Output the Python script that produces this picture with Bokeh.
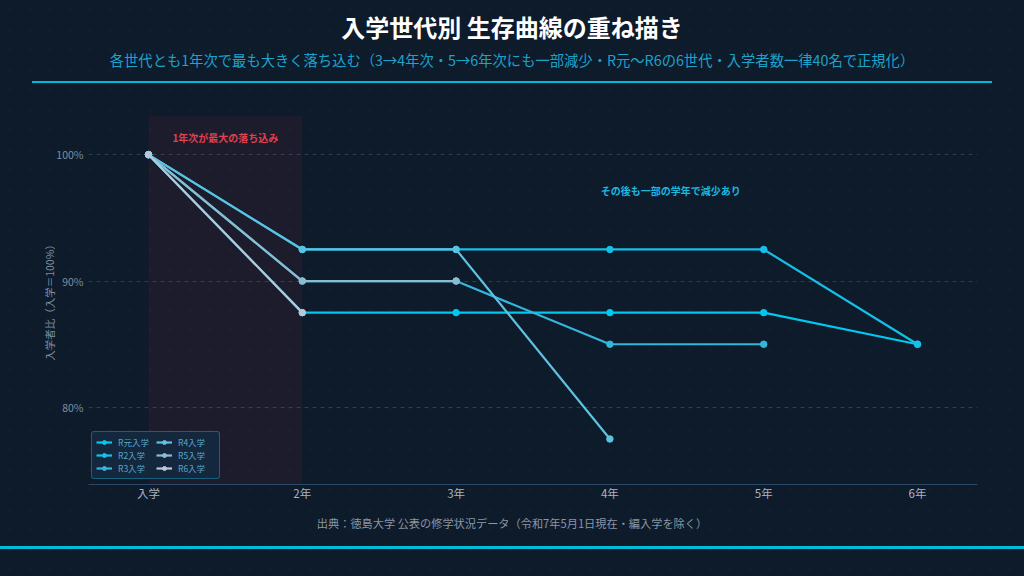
from bokeh.plotting import figure
from bokeh.models import (Legend, LegendItem, BoxAnnotation, Label, FixedTicker,
                          Range1d, Div, ColumnDataSource)
from bokeh.layouts import column
from bokeh.embed import file_html
from bokeh.resources import INLINE

# ---------------- data ----------------
stages = ["入学", "2年", "3年", "4年", "5年", "6年"]
cohorts = ["R元入学", "R2入学", "R3入学", "R4入学", "R5入学", "R6入学"]
r1_vals = [100, 87.5, 87.5, 87.5, 87.5, 85]
r2_vals = [100, 92.5, 92.5, 92.5, 92.5, 85]
r3_vals = [100, 90, 90, 85, 85]
r4_vals = [100, 92.5, 92.5, 77.5]
r5_vals = [100, 90, 90]
r6_vals = [100, 87.5]
series_vals = [r1_vals, r2_vals, r3_vals, r4_vals, r5_vals, r6_vals]
y_ticks = [80, 90, 100]
y_tick_labels = ["80%", "90%", "100%"]

title_text = "入学世代別 生存曲線の重ね描き"
subtitle_text = "各世代とも1年次で最も大きく落ち込む（3→4年次・5→6年次にも一部減少・R元〜R6の6世代・入学者数一律40名で正規化）"
source_text = "出典：徳島大学 公表の修学状況データ（令和7年5月1日現在・編入学を除く）"
y_label_text = "入学者比（入学＝100%）"
note_drop = "1年次が最大の落ち込み"
note_later = "その後も一部の学年で減少あり"

# ---------------- style ----------------
BG = "#0e1b2b"
ACCENT = "#00bcd8"
FONT = "Noto Sans CJK JP"
colors = ["#00c8f0", "#14c0e8", "#34b6dc", "#5cc2e0", "#8cbcd0", "#b8c8d6"]

p = figure(width=1008, height=410,
           x_range=Range1d(-0.39, 5.39), y_range=Range1d(73.9, 103.1),
           output_backend="svg", toolbar_location=None,
           min_border_left=80, min_border_right=39,
           min_border_top=11, min_border_bottom=30,
           background_fill_color=None, border_fill_color=None,
           outline_line_color=None, margin=0)

# shaded first-year region
p.add_layout(BoxAnnotation(left=0, right=1, fill_color="#e03040", fill_alpha=0.07,
                           line_color=None, border_radius=3, level="underlay"))

items = []
for name, vals, col in zip(cohorts, series_vals, colors):
    src = ColumnDataSource(dict(x=list(range(len(vals))), y=vals))
    ln = p.line("x", "y", source=src, line_color=col, line_width=2.2)
    sc = p.scatter("x", "y", source=src, marker="circle", size=6.5,
                   fill_color=col, line_color=col)
    items.append(LegendItem(label=name, renderers=[ln, sc]))

legend = Legend(items=items, location=(3, 5), orientation="vertical", nrows=3,
                background_fill_color="#14283e", background_fill_alpha=0.95,
                border_line_color="#1a9cc0", border_line_width=1,
                border_radius=3, margin=0, padding=4, spacing=1,
                glyph_width=16, glyph_height=10, label_height=10,
                label_width=37, label_standoff=6,
                label_text_font=FONT, label_text_font_size="8.5px",
                label_text_color="#5aa6c4")
p.add_layout(legend)

# annotations
p.add_layout(Label(x=0.5, y=101.35, text=note_drop, text_align="center",
                   text_baseline="middle", text_font=FONT, text_font_size="10px",
                   text_font_style="bold", text_color="#e0404f"))
p.add_layout(Label(x=3.395, y=97.15, text=note_later, text_align="center",
                   text_baseline="middle", text_font=FONT, text_font_size="10px",
                   text_font_style="bold", text_color="#1ab8e0"))

# axes
p.xaxis.ticker = FixedTicker(ticks=list(range(len(stages))))
p.xaxis.major_label_overrides = {i: s for i, s in enumerate(stages)}
p.xaxis.axis_line_color = "#2a4866"
p.xaxis.axis_line_width = 1
p.xaxis.major_tick_line_color = None
p.xaxis.minor_tick_line_color = None
p.xaxis.major_tick_out = 0
p.xaxis.major_tick_in = 0
p.xaxis.major_label_standoff = 0
p.xaxis.major_label_text_font = FONT
p.xaxis.major_label_text_font_size = "11.5px"
p.xaxis.major_label_text_color = "#aab4c0"

p.yaxis.ticker = FixedTicker(ticks=y_ticks)
p.yaxis.major_label_overrides = {t: l for t, l in zip(y_ticks, y_tick_labels)}
p.yaxis.axis_line_color = None
p.yaxis.major_tick_line_color = None
p.yaxis.minor_tick_line_color = None
p.yaxis.major_tick_out = 0
p.yaxis.major_tick_in = 0
p.yaxis.major_label_standoff = 5
p.yaxis.major_label_text_font = FONT
p.yaxis.major_label_text_font_size = "10.5px"
p.yaxis.major_label_text_color = "#7f8fa0"
p.yaxis.axis_label = y_label_text
p.yaxis.axis_label_text_font = FONT
p.yaxis.axis_label_text_font_size = "10.5px"
p.yaxis.axis_label_text_font_style = "normal"
p.yaxis.axis_label_text_color = "#7f8fa0"
p.yaxis.axis_label_standoff = -4

p.xgrid.grid_line_color = None
p.ygrid.grid_line_color = "#2c3d52"
p.ygrid.grid_line_dash = "4 4"
p.ygrid.grid_line_width = 1

header = Div(width=1008, height=96, margin=0, text=f"""
<div style="position:relative;width:1008px;height:96px;font-family:'{FONT}',sans-serif;">
  <div style="position:absolute;left:0;top:4px;width:1008px;text-align:center;font-size:24px;font-weight:bold;color:#ffffff;line-height:30px;white-space:nowrap;">{title_text}</div>
  <div style="position:absolute;left:0;top:42px;width:1008px;text-align:center;font-size:14.3px;color:#1ca3cc;line-height:20px;white-space:nowrap;">{subtitle_text}</div>
  <div style="position:absolute;left:24px;top:73px;width:960px;height:2px;background:{ACCENT};"></div>
</div>""")

footer = Div(width=1008, height=54, margin=0, text=f"""
<div style="position:relative;width:1008px;height:54px;font-family:'{FONT}',sans-serif;">
  <div style="position:absolute;left:0;top:1px;width:1008px;text-align:center;font-size:11.2px;color:#8a96a6;line-height:16px;white-space:nowrap;">{source_text}</div>
</div>""")

layout = column(header, p, footer, spacing=0, margin=0)

html = file_html(layout, INLINE, title="survival")
style = ("<style>html{background-color:%s;"
         "background-image:linear-gradient(%s,%s),"
         "radial-gradient(rgba(255,255,255,0.035) 1px, transparent 1.2px);"
         "background-size:100%% 3px,20px 20px;"
         "background-position:0 546px,0 0;"
         "background-repeat:no-repeat,repeat;}"
         "body{background:transparent;margin:8px;overflow:hidden;}</style>"
         % (BG, ACCENT, ACCENT))
html = html.replace("</head>", style + "</head>", 1)
open("out.html", "w").write(html)
